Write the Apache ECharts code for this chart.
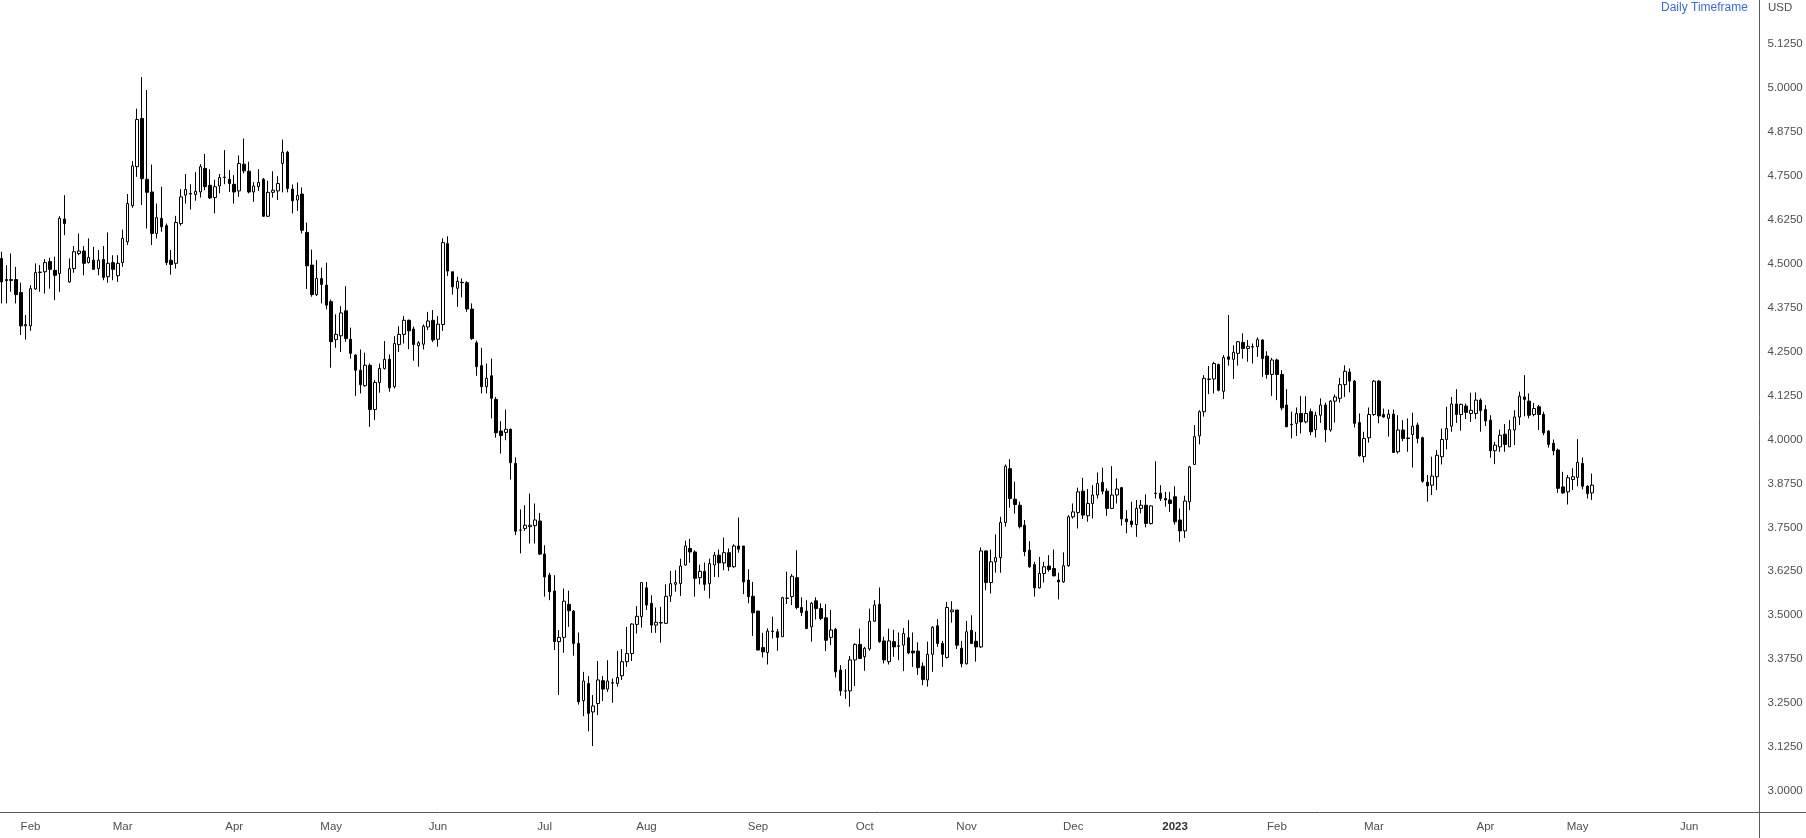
<!DOCTYPE html>
<html>
<head>
<meta charset="utf-8">
<script src="https://cdn.jsdelivr.net/npm/echarts@6/dist/echarts.min.js"></script>
<style>
  html, body { margin: 0; padding: 0; background: #ffffff; }
  #chart { width: 1806px; height: 838px; }
</style>
</head>
<body>
<div id="chart"></div>
<script>
// ---- Category (trading-day) definition ----
const firstTradingDay = '2022-01-24';
const closedDays = ['2022-02-21', '2022-04-15', '2022-12-26', '2023-01-02', '2023-04-07'];
const slotCount = 363; // visible trading-day slots incl. empty space right of the last candle
const monthNames = ['Jan','Feb','Mar','Apr','May','Jun','Jul','Aug','Sep','Oct','Nov','Dec'];

// ---- Price axis ticks ----
const priceMin = 2.875, priceMax = 5.25, priceStep = 0.125;
const priceLabelLow = 3.0, priceLabelHigh = 5.125;

// ---- Daily OHLC values ----
const openPrices = [
4.515,4.455,4.452,4.455,4.418,4.323,4.323,4.428,4.475,4.477,4.506,4.481,4.472,4.627,4.448,4.486,4.529,4.536,4.503,4.510,
4.486,4.512,4.463,4.503,4.466,4.503,4.562,4.665,4.776,4.913,4.740,4.704,4.586,4.629,4.608,4.510,4.501,4.614,4.695,4.700,
4.697,4.704,4.771,4.723,4.688,4.721,4.746,4.740,4.726,4.707,4.783,4.763,4.704,4.719,4.740,4.635,4.703,4.707,4.785,4.817,
4.712,4.681,4.698,4.589,4.496,4.412,4.458,4.439,4.392,4.284,4.295,4.366,4.285,4.240,4.197,4.153,4.211,4.085,4.162,4.202,
4.228,4.150,4.270,4.299,4.339,4.314,4.267,4.271,4.320,4.339,4.285,4.327,4.557,4.477,4.430,4.447,4.446,4.371,4.275,4.210,
4.150,4.181,4.114,4.024,4.020,4.029,3.932,3.742,3.747,3.752,3.755,3.768,3.674,3.614,3.569,3.425,3.437,3.531,3.512,3.420,
3.257,3.306,3.225,3.249,3.314,3.290,3.308,3.306,3.328,3.368,3.391,3.474,3.496,3.578,3.534,3.472,3.479,3.477,3.555,3.588,
3.590,3.643,3.690,3.680,3.607,3.625,3.590,3.643,3.671,3.649,3.678,3.638,3.697,3.697,3.600,3.554,3.512,3.408,3.394,3.455,
3.453,3.439,3.548,3.553,3.607,3.522,3.512,3.467,3.541,3.519,3.493,3.437,3.460,3.344,3.285,3.285,3.373,3.417,3.382,3.404,
3.483,3.531,3.427,3.368,3.425,3.413,3.415,3.436,3.398,3.398,3.355,3.316,3.389,3.470,3.420,3.380,3.510,3.515,3.406,3.362,
3.457,3.426,3.410,3.683,3.593,3.652,3.664,3.764,3.917,3.830,3.813,3.756,3.685,3.644,3.578,3.619,3.640,3.633,3.600,3.595,
3.641,3.780,3.792,3.853,3.783,3.818,3.842,3.878,3.853,3.804,3.842,3.863,3.774,3.768,3.758,3.804,3.813,3.761,3.847,3.847,
3.832,3.828,3.837,3.771,3.740,3.823,3.929,4.010,4.079,4.172,4.172,4.213,4.137,4.235,4.228,4.245,4.276,4.259,4.263,4.264,
4.283,4.237,4.185,4.226,4.185,4.098,4.043,4.046,4.074,4.050,4.079,4.028,4.069,4.098,4.027,4.109,4.117,4.156,4.192,4.166,
4.048,3.951,4.005,4.071,4.166,4.071,4.060,4.072,3.965,4.027,4.004,4.014,4.041,4.005,3.878,3.870,3.894,3.951,4.000,4.038,
4.101,4.071,4.095,4.074,4.074,4.112,4.085,4.055,3.968,3.979,4.015,3.979,4.027,4.064,4.121,4.109,4.071,4.093,4.071,4.024,
3.989,3.970,3.865,3.851,3.886,3.892,3.932,3.867,3.848
];
const highPrices = [
4.534,4.496,4.529,4.491,4.446,4.354,4.439,4.501,4.496,4.513,4.517,4.520,4.635,4.695,4.515,4.550,4.586,4.550,4.572,4.548,
4.539,4.550,4.589,4.524,4.524,4.597,4.698,4.792,4.941,5.031,4.994,4.782,4.671,4.719,4.614,4.539,4.636,4.712,4.755,4.726,
4.761,4.783,4.812,4.769,4.739,4.755,4.823,4.766,4.752,4.808,4.856,4.790,4.732,4.769,4.744,4.736,4.763,4.749,4.853,4.821,
4.725,4.731,4.717,4.617,4.540,4.510,4.489,4.503,4.398,4.356,4.379,4.436,4.318,4.242,4.256,4.247,4.216,4.169,4.216,4.280,
4.242,4.294,4.322,4.351,4.341,4.321,4.280,4.327,4.363,4.368,4.351,4.572,4.578,4.477,4.463,4.458,4.450,4.387,4.281,4.261,
4.216,4.230,4.121,4.052,4.085,4.031,3.949,3.801,3.813,3.846,3.818,3.791,3.699,3.621,3.614,3.458,3.576,3.570,3.515,3.451,
3.339,3.327,3.273,3.370,3.327,3.372,3.320,3.398,3.404,3.467,3.477,3.526,3.593,3.595,3.557,3.522,3.524,3.588,3.626,3.628,
3.661,3.712,3.717,3.685,3.644,3.650,3.661,3.680,3.687,3.721,3.690,3.702,3.778,3.697,3.631,3.595,3.512,3.450,3.463,3.496,
3.461,3.553,3.624,3.617,3.685,3.551,3.543,3.538,3.551,3.534,3.532,3.515,3.464,3.358,3.347,3.384,3.420,3.462,3.410,3.519,
3.543,3.579,3.439,3.462,3.459,3.451,3.464,3.486,3.451,3.423,3.366,3.425,3.469,3.489,3.427,3.538,3.540,3.515,3.427,3.484,
3.500,3.453,3.693,3.684,3.687,3.730,3.780,3.929,3.944,3.880,3.823,3.771,3.711,3.652,3.666,3.652,3.671,3.687,3.621,3.679,
3.785,3.818,3.863,3.891,3.859,3.870,3.906,3.920,3.861,3.924,3.889,3.865,3.799,3.823,3.828,3.828,3.844,3.813,3.938,3.870,
3.851,3.851,3.867,3.804,3.840,3.925,4.041,4.083,4.183,4.209,4.221,4.216,4.240,4.354,4.268,4.280,4.302,4.283,4.273,4.290,
4.285,4.251,4.232,4.230,4.197,4.143,4.079,4.091,4.124,4.123,4.088,4.079,4.117,4.105,4.112,4.128,4.175,4.211,4.202,4.169,
4.074,4.022,4.091,4.169,4.169,4.088,4.085,4.085,4.069,4.055,4.060,4.076,4.048,4.008,3.899,3.951,3.970,4.031,4.093,4.121,
4.143,4.102,4.102,4.133,4.134,4.117,4.098,4.069,3.993,4.028,4.044,4.055,4.083,4.136,4.183,4.131,4.104,4.098,4.079,4.027,
4.000,3.974,3.908,3.899,3.918,4.001,3.949,3.870,3.903
];
const lowPrices = [
4.387,4.387,4.420,4.387,4.297,4.284,4.309,4.425,4.420,4.415,4.429,4.396,4.420,4.581,4.446,4.474,4.524,4.467,4.501,4.482,
4.467,4.453,4.446,4.453,4.448,4.491,4.553,4.659,4.747,4.667,4.600,4.553,4.572,4.591,4.496,4.469,4.486,4.608,4.671,4.654,
4.679,4.688,4.709,4.684,4.643,4.700,4.726,4.704,4.671,4.690,4.757,4.700,4.676,4.707,4.633,4.633,4.688,4.681,4.703,4.703,
4.643,4.650,4.586,4.428,4.406,4.408,4.387,4.370,4.204,4.261,4.249,4.278,4.230,4.124,4.131,4.150,4.036,4.055,4.133,4.199,
4.136,4.145,4.249,4.273,4.257,4.224,4.207,4.256,4.311,4.277,4.264,4.309,4.465,4.412,4.377,4.404,4.363,4.283,4.181,4.131,
4.131,4.060,4.005,3.960,3.998,3.886,3.728,3.676,3.740,3.704,3.704,3.671,3.553,3.543,3.401,3.273,3.393,3.467,3.385,3.246,
3.213,3.170,3.128,3.216,3.256,3.282,3.251,3.297,3.316,3.353,3.370,3.448,3.465,3.515,3.450,3.450,3.422,3.475,3.538,3.567,
3.555,3.641,3.649,3.553,3.588,3.570,3.548,3.609,3.608,3.628,3.626,3.635,3.678,3.560,3.534,3.441,3.401,3.380,3.360,3.434,
3.399,3.439,3.532,3.529,3.517,3.498,3.461,3.425,3.488,3.486,3.398,3.415,3.323,3.271,3.262,3.240,3.299,3.377,3.342,3.399,
3.481,3.422,3.363,3.360,3.382,3.372,3.341,3.389,3.353,3.330,3.301,3.297,3.339,3.410,3.353,3.377,3.479,3.404,3.352,3.360,
3.418,3.368,3.407,3.571,3.562,3.621,3.621,3.752,3.806,3.789,3.747,3.668,3.635,3.553,3.576,3.593,3.624,3.611,3.545,3.592,
3.638,3.775,3.747,3.774,3.766,3.775,3.832,3.844,3.783,3.802,3.818,3.755,3.733,3.750,3.723,3.790,3.750,3.758,3.832,3.825,
3.809,3.794,3.758,3.709,3.720,3.799,3.929,3.986,4.065,4.129,4.131,4.137,4.115,4.210,4.172,4.210,4.230,4.221,4.216,4.235,
4.178,4.173,4.124,4.112,4.083,4.036,4.003,4.010,4.017,4.046,4.012,4.006,4.047,3.992,4.022,4.048,4.105,4.121,4.134,4.034,
3.951,3.935,3.991,4.067,4.046,4.062,4.008,3.963,3.960,3.995,3.965,3.920,3.989,3.877,3.823,3.842,3.856,3.929,3.972,4.022,
4.047,4.025,4.058,4.050,4.058,4.022,4.038,3.948,3.930,3.965,3.965,3.979,3.984,4.041,4.066,4.060,4.066,4.027,4.012,3.977,
3.955,3.848,3.846,3.815,3.856,3.867,3.858,3.832,3.828
];
const closePrices = [
4.448,4.452,4.455,4.412,4.323,4.327,4.429,4.475,4.476,4.503,4.484,4.467,4.629,4.614,4.486,4.534,4.536,4.501,4.518,4.484,
4.510,4.461,4.501,4.484,4.501,4.572,4.671,4.778,4.910,4.742,4.703,4.586,4.631,4.605,4.503,4.498,4.617,4.690,4.711,4.698,
4.706,4.776,4.719,4.687,4.719,4.745,4.745,4.728,4.704,4.785,4.764,4.704,4.721,4.731,4.635,4.703,4.709,4.728,4.817,4.714,
4.679,4.694,4.595,4.494,4.412,4.458,4.441,4.382,4.278,4.299,4.360,4.287,4.245,4.197,4.156,4.211,4.085,4.162,4.202,4.228,
4.147,4.273,4.299,4.339,4.309,4.270,4.275,4.322,4.337,4.283,4.328,4.560,4.479,4.434,4.450,4.446,4.371,4.287,4.207,4.150,
4.174,4.117,4.019,4.011,4.029,3.934,3.739,3.742,3.756,3.756,3.771,3.674,3.609,3.567,3.425,3.437,3.540,3.513,3.420,3.254,
3.313,3.221,3.242,3.316,3.290,3.313,3.307,3.323,3.368,3.391,3.475,3.497,3.593,3.529,3.472,3.480,3.478,3.554,3.590,3.593,
3.640,3.697,3.680,3.605,3.625,3.588,3.647,3.671,3.649,3.678,3.638,3.697,3.688,3.595,3.553,3.507,3.401,3.396,3.455,3.454,
3.437,3.550,3.549,3.611,3.522,3.508,3.462,3.534,3.519,3.491,3.429,3.458,3.339,3.285,3.285,3.373,3.417,3.377,3.406,3.483,
3.529,3.425,3.373,3.427,3.410,3.412,3.448,3.393,3.393,3.351,3.317,3.389,3.466,3.420,3.389,3.522,3.515,3.415,3.362,3.453,
3.420,3.410,3.683,3.593,3.652,3.664,3.764,3.924,3.832,3.815,3.752,3.681,3.638,3.578,3.619,3.638,3.630,3.612,3.595,3.641,
3.780,3.794,3.851,3.785,3.818,3.842,3.875,3.853,3.804,3.842,3.859,3.774,3.766,3.758,3.804,3.813,3.761,3.811,3.846,3.832,
3.828,3.818,3.766,3.740,3.825,3.922,4.008,4.079,4.174,4.171,4.216,4.140,4.233,4.228,4.248,4.278,4.259,4.265,4.264,4.284,
4.230,4.185,4.226,4.185,4.090,4.036,4.042,4.074,4.050,4.074,4.022,4.069,4.098,4.028,4.109,4.121,4.156,4.194,4.166,4.046,
3.954,4.003,4.071,4.166,4.067,4.064,4.072,3.963,4.027,4.003,4.003,4.038,4.003,3.881,3.868,3.896,3.955,4.000,4.031,4.101,
4.071,4.100,4.077,4.083,4.112,4.082,4.053,3.968,3.984,4.012,3.986,4.028,4.064,4.123,4.114,4.069,4.088,4.071,4.019,3.986,
3.968,3.861,3.848,3.891,3.894,3.935,3.867,3.846,3.870
];

// ---- Build the trading-day categories ----
function buildTradingDays(start, closed, count) {
  const out = [];
  const d = new Date(start + 'T00:00:00Z');
  while (out.length < count) {
    const wd = d.getUTCDay();
    const s = d.toISOString().slice(0, 10);
    if (wd !== 0 && wd !== 6 && closed.indexOf(s) < 0) out.push(s);
    d.setUTCDate(d.getUTCDate() + 1);
  }
  return out;
}
const tradingDays = buildTradingDays(firstTradingDay, closedDays, slotCount);

const candleData = openPrices.map((o, i) => [o, closePrices[i], lowPrices[i], highPrices[i]]);

function isMonthStart(index) {
  return index > 0 && tradingDays[index].slice(0, 7) !== tradingDays[index - 1].slice(0, 7);
}

const axisTextColor = '#4f4f4f';
const axisLineColor = '#5a5a5a';
const fontFam = '"Liberation Sans", Arial, sans-serif';

const chart = echarts.init(document.getElementById('chart'), null, { renderer: 'canvas' });
chart.setOption({
  animation: false,
  backgroundColor: '#ffffff',
  grid: { left: -1, right: 46.5, top: 0, bottom: 3, outerBoundsMode: 'none', containLabel: false },
  xAxis: {
    type: 'category',
    data: tradingDays,
    boundaryGap: true,
    offset: -23,
    axisLine: { show: true, onZero: false, lineStyle: { color: axisLineColor, width: 1 } },
    axisTick: { show: false },
    splitLine: { show: false },
    axisLabel: {
      interval: function (index) { return isMonthStart(index); },
      margin: 9,
      color: axisTextColor,
      fontFamily: fontFam,
      fontSize: 11.5,
      formatter: function (value) {
        const m = parseInt(value.slice(5, 7), 10);
        if (m === 1) return '{yr|' + value.slice(0, 4) + '}';
        return monthNames[m - 1];
      },
      rich: { yr: { fontWeight: 'bold', color: '#333333', fontFamily: fontFam, fontSize: 11.5 } }
    }
  },
  yAxis: {
    type: 'value',
    position: 'right',
    min: priceMin,
    max: priceMax,
    interval: priceStep,
    scale: true,
    axisLine: { show: true, lineStyle: { color: axisLineColor, width: 1 } },
    axisTick: { show: false },
    splitLine: { show: false },
    axisLabel: {
      margin: 8,
      color: axisTextColor,
      fontFamily: fontFam,
      fontSize: 11.5,
      formatter: function (v) {
        if (v < priceLabelLow - 1e-6 || v > priceLabelHigh + 1e-6) return '';
        return v.toFixed(4);
      }
    }
  },
  series: [{
    type: 'candlestick',
    data: candleData,
    barWidth: 3,
    clip: true,
    itemStyle: {
      color: '#ffffff',
      color0: '#000000',
      borderColor: '#000000',
      borderColor0: '#000000',
      borderColorDoji: '#000000',
      borderWidth: 1
    }
  }],
  graphic: [
    { type: 'line', shape: { x1: 1759, y1: 812.5, x2: 1806, y2: 812.5 }, style: { stroke: axisLineColor, lineWidth: 1 }, silent: true },
    { type: 'line', shape: { x1: 1759.5, y1: 835, x2: 1759.5, y2: 838 }, style: { stroke: axisLineColor, lineWidth: 1 }, silent: true },
    { type: 'text', left: 1661, top: 2, style: { text: 'Daily Timeframe', fill: '#3a6bd6', font: '12px ' + fontFam } },
    { type: 'text', left: 1768, top: 2, style: { text: 'USD', fill: '#4f4f4f', font: '11.5px ' + fontFam } }
  ]
});
</script>
</body>
</html>
